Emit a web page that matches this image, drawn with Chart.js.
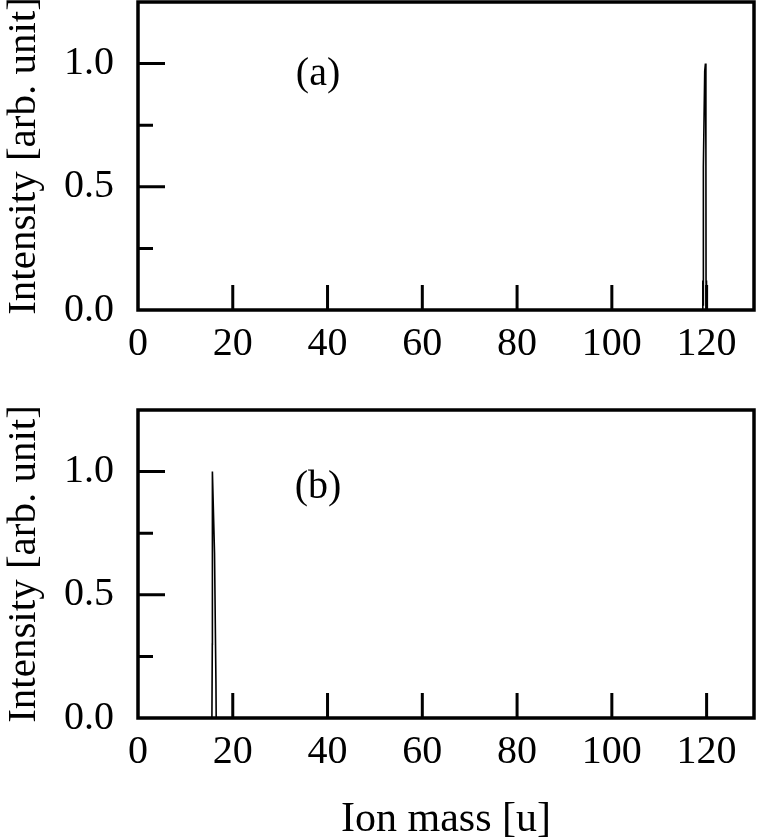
<!DOCTYPE html>
<html>
<head>
<meta charset="utf-8">
<script src="https://cdn.jsdelivr.net/npm/chart.js@4.4.1/dist/chart.umd.min.js"></script>
<style>
    html, body { margin: 0; padding: 0; background: #fff; }
    body { width: 757px; height: 840px; position: relative; overflow: hidden; }
    .panel { position: absolute; left: 0; }
    #panelA { top: 0; }
    #panelB { top: 408px; }
</style>
</head>
<body>
<div class="panel" id="panelA"><canvas id="chartA" width="757" height="370"></canvas></div>
<div class="panel" id="panelB"><canvas id="chartB" width="757" height="432"></canvas></div>
<script>
// Data
const xTicks = [0, 20, 40, 60, 80, 100, 120];
const yTicks = [0.0, 0.5, 1.0];
const yMinorTicks = [0.25, 0.75];

// (a) peak near 120 u
const massA      = [0, 119.1, 119.2, 119.25, 119.3, 119.33, 119.6, 119.75, 119.85, 119.88, 119.95, 120.0, 120.1, 130];
const intensityA = [0, 0,     0.12,  0.02,   0.12,  0.58,   0.97,  1.0,    0.65,   0.12,   0.0,    0.11,  0,     0];

// (b) peak near 16 u
const massB      = [0, 15.6, 15.68, 15.7, 16.15, 16.45, 16.5, 130];
const intensityB = [0, 0,    0.3,   1.0,  0.67,  0.14,  0,    0];

const FONT = "'Liberation Serif', 'DejaVu Serif', serif";

// Draw the box frame and inward ticks through the chart's own scales
const frameTicks = {
    id: 'frameTicks',
    afterDraw(chart, args, opts) {
        const { ctx, chartArea: a, scales } = chart;
        ctx.save();
        ctx.strokeStyle = '#000';
        ctx.lineWidth = 3;
        ctx.lineCap = 'butt';
        ctx.beginPath();
        xTicks.forEach(v => {
            if (v === 0) return;
            const px = scales.x.getPixelForValue(v);
            ctx.moveTo(px, a.bottom);
            ctx.lineTo(px, a.bottom - 25);
        });
        yTicks.forEach(v => {
            if (v === 0) return;
            const py = scales.y.getPixelForValue(v);
            ctx.moveTo(a.left, py);
            ctx.lineTo(a.left + 27, py);
        });
        yMinorTicks.forEach(v => {
            const py = scales.y.getPixelForValue(v);
            ctx.moveTo(a.left, py);
            ctx.lineTo(a.left + 15, py);
        });
        ctx.stroke();

        ctx.lineWidth = 3.5;
        ctx.strokeRect(a.left, a.top, a.right - a.left, a.bottom - a.top);

        // panel letter
        ctx.fillStyle = '#000';
        ctx.font = '40px ' + FONT;
        ctx.textAlign = 'center';
        ctx.textBaseline = 'middle';
        ctx.fillText(opts.label, scales.x.getPixelForValue(opts.at[0]), scales.y.getPixelForValue(opts.at[1]));
        ctx.restore();
    }
};

function makeChart(id, mass, intensity, label, labelAt, xHeight, showXTitle) {
    const ctx = document.getElementById(id).getContext('2d');
    return new Chart(ctx, {
        type: 'line',
        data: {
            datasets: [{
                data: mass.map((m, i) => ({ x: m, y: intensity[i] })),
                borderColor: '#000',
                borderWidth: 1.6,
                pointRadius: 0,
                tension: 0,
                fill: false
            }]
        },
        options: {
            responsive: false,
            animation: false,
            layout: { padding: { top: 2, right: 3, left: 0, bottom: 0 } },
            plugins: {
                legend: { display: false },
                tooltip: { enabled: false },
                frameTicks: { label: label, at: labelAt }
            },
            scales: {
                x: {
                    type: 'linear',
                    min: 0,
                    max: 130,
                    afterBuildTicks: scale => { scale.ticks = xTicks.map(v => ({ value: v })); },
                    afterFit: scale => {
                        scale.height = xHeight;
                        scale.paddingLeft = 0;
                        scale.paddingRight = 0;
                    },
                    grid: { display: false },
                    border: { display: false },
                    ticks: {
                        color: '#000',
                        padding: 2,
                        maxRotation: 0,
                        font: { family: FONT, size: 40 }
                    },
                    title: {
                        display: showXTitle,
                        text: 'Ion mass [u]',
                        color: '#000',
                        padding: { top: 26, bottom: -5 },
                        font: { family: FONT, size: 42 }
                    }
                },
                y: {
                    min: 0,
                    max: 1.25,
                    afterBuildTicks: scale => { scale.ticks = yTicks.map(v => ({ value: v })); },
                    afterFit: scale => {
                        scale.width = 138;
                        scale.paddingTop = 0;
                        scale.paddingBottom = 0;
                    },
                    grid: { display: false },
                    border: { display: false },
                    ticks: {
                        color: '#000',
                        padding: 16,
                        font: { family: FONT, size: 40 },
                        callback: value => value.toFixed(1)
                    },
                    title: {
                        display: true,
                        text: 'Intensity [arb. unit]',
                        color: '#000',
                        padding: { top: 0, bottom: 0 },
                        font: { family: FONT, size: 41 }
                    }
                }
            }
        },
        plugins: [frameTicks]
    });
}

makeChart('chartA', massA, intensityA, '(a)', [38, 0.955], 60, false);
makeChart('chartB', massB, intensityB, '(b)', [38, 0.935], 122, true);
</script>
</body>
</html>
